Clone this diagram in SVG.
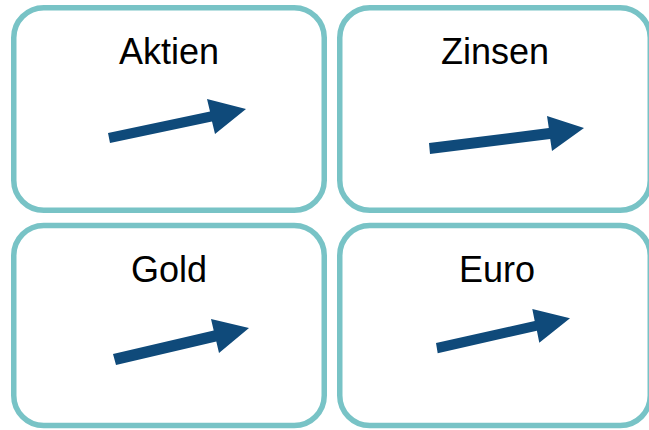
<svg xmlns="http://www.w3.org/2000/svg" width="649" height="430" viewBox="0 0 649 430">
<style>
.box{fill:#ffffff;stroke:#78C3C6;stroke-width:5.5}
.lbl{font-family:"Liberation Sans",Arial,sans-serif;font-size:36px;fill:#000000;text-anchor:middle}
.arr{fill:#0F4A7A}
</style>
<rect width="649" height="430" fill="#ffffff"/>
<g id="aktien">
<rect class="box" x="13.75" y="7.75" width="310.5" height="202.5" rx="30"/>
<text class="lbl" x="169" y="64">Aktien</text>
</g>
<g id="zinsen">
<rect class="box" x="339.75" y="7.75" width="310.5" height="202.5" rx="30"/>
<text class="lbl" x="495" y="64">Zinsen</text>
</g>
<g id="gold">
<rect class="box" x="13.75" y="225.5" width="310.5" height="200" rx="30"/>
<text class="lbl" x="169" y="282">Gold</text>
</g>
<g id="euro">
<rect class="box" x="339.75" y="225.5" width="310.5" height="200" rx="30"/>
<text class="lbl" x="497" y="282">Euro</text>
</g>
<g id="connectors">
<polygon class="arr" points="110,143 108,133 210,111.6 207,99 246,109 215,134 212,121.4"/>
<polygon class="arr" points="430,154 429,143 548.8,128.1 547,116 584,128 552,151 550.2,138.9"/>
<polygon class="arr" points="116,365 113,354 213.7,330.6 211,319 249,328 219,353 216.3,341.4"/>
<polygon class="arr" points="437.7,353.3 436,343 534.7,320.9 532.3,309 570,318.3 539.3,342.7 536.9,330.7"/>
</g>
</svg>
